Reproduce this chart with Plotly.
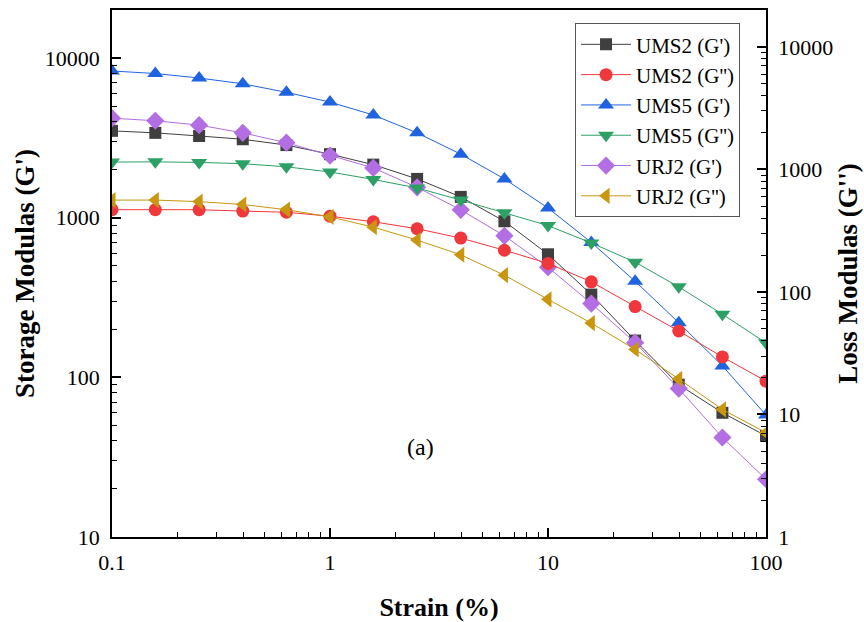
import math
import plotly.graph_objects as go

strain = [0.1, 0.158, 0.251, 0.398, 0.631, 1.0, 1.58, 2.51, 3.98, 6.31, 10.0, 15.8, 25.1, 39.8, 63.1, 100.0]
ums2_gp = [3500, 3400, 3250, 3100, 2850, 2500, 2150, 1750, 1350, 950, 590, 330, 170, 90, 60, 43]
ums2_gpp = [469, 469, 469, 457, 447, 415, 374, 328, 275, 219, 171, 121, 76, 48, 29.5, 18.7]
ums5_gp = [8300, 8000, 7500, 6900, 6100, 5300, 4400, 3400, 2500, 1750, 1150, 700, 400, 220, 118, 58]
ums5_gpp = [1148, 1153, 1140, 1114, 1050, 953, 828, 706, 562, 442, 348, 251, 175, 110, 65.8, 38.4]
urj2_gp = [4200, 4050, 3800, 3400, 2950, 2450, 2050, 1550, 1120, 770, 490, 290, 165, 85, 42, 23]
urj2_gpp = [562, 562, 546, 517, 469, 410, 338, 265, 201, 137, 87, 55.7, 33.9, 19.5, 11.0, 7.1]

x_ticks = [0.1, 1, 10, 100]
x_tick_text = ["0.1", "1", "10", "100"]
left_ticks = [10, 100, 1000, 10000]
left_tick_text = ["10", "100", "1000", "10000"]
right_ticks = [1, 10, 100, 1000, 10000]
right_tick_text = ["1", "10", "100", "1000", "10000"]

FONT = "Liberation Serif, Times New Roman, serif"

series = [
    ("UMS2 (G')", ums2_gp, "y", "#3f3f3f", "square", 12),
    ("UMS2 (G'')", ums2_gpp, "y2", "#f0373c", "circle", 13),
    ("UMS5 (G')", ums5_gp, "y", "#1f63e0", "triangle-up", 14),
    ("UMS5 (G'')", ums5_gpp, "y2", "#2da065", "triangle-down", 14),
    ("URJ2 (G')", urj2_gp, "y", "#b26ee2", "diamond", 14),
    ("URJ2 (G'')", urj2_gpp, "y2", "#c8960f", "triangle-left", 14),
]

fig = go.Figure()
for name, vals, ax, col, sym, sz in series:
    fig.add_trace(go.Scatter(
        x=strain, y=vals, yaxis=ax, name=name, mode="lines+markers",
        line=dict(color=col, width=1),
        marker=dict(symbol=sym, size=sz, color=col, line=dict(width=0)),
    ))

def minor_vals(lo, hi):
    out = []
    for d in range(lo, hi + 1):
        for m in range(2, 10):
            out.append(m * 10 ** d)
    return out

fig.update_layout(
    width=864, height=622,
    margin=dict(l=112, r=98, t=10, b=85),
    paper_bgcolor="white", plot_bgcolor="white",
    font=dict(family=FONT, size=22, color="black"),
    showlegend=True,
    legend=dict(
        x=0.708, y=0.975, xanchor="left", yanchor="top",
        bgcolor="white", bordercolor="#555555", borderwidth=1,
        font=dict(family=FONT, size=21, color="black"),
        itemwidth=50, tracegroupgap=0,
    ),
    xaxis=dict(
        type="log", range=[-1, 2],
        tickvals=x_ticks, ticktext=x_tick_text,
        ticks="inside", ticklen=9, tickwidth=1.5, tickcolor="black",
        minor=dict(ticks="inside", ticklen=5, tickwidth=1.2, tickcolor="black",
                   tickmode="array", tickvals=minor_vals(-1, 1)),
        showline=True, linecolor="black", linewidth=1.5, mirror=True,
        showgrid=False, zeroline=False,
        tickfont=dict(family=FONT, size=22),
        ticklabelstandoff=5,
        title=dict(text="<b>Strain (%)</b>", font=dict(family=FONT, size=26), standoff=27),
        automargin=False,
    ),
    yaxis=dict(
        type="log", range=[1, math.log10(20000)],
        tickvals=left_ticks, ticktext=left_tick_text,
        ticks="inside", ticklen=9, tickwidth=1.5, tickcolor="black",
        minor=dict(ticks="inside", ticklen=5, tickwidth=1.2, tickcolor="black",
                   tickmode="array", tickvals=minor_vals(1, 3)),
        showline=True, linecolor="black", linewidth=1.5,
        showgrid=False, zeroline=False,
        tickfont=dict(family=FONT, size=22),
        ticklabelstandoff=6,
        title=dict(text="<b>Storage Modulas (G')</b>", font=dict(family=FONT, size=27), standoff=2),
        automargin=False,
    ),
    yaxis2=dict(
        type="log", range=[0, math.log10(20000)],
        overlaying="y", side="right",
        tickvals=right_ticks, ticktext=right_tick_text,
        ticks="inside", ticklen=9, tickwidth=1.5, tickcolor="black",
        minor=dict(ticks="inside", ticklen=5, tickwidth=1.2, tickcolor="black",
                   tickmode="array", tickvals=minor_vals(0, 3)),
        showline=True, linecolor="black", linewidth=1.5,
        showgrid=False, zeroline=False,
        tickfont=dict(family=FONT, size=22),
        ticklabelstandoff=6,
        title=dict(text="<b>Loss Modulas (G'')</b>", font=dict(family=FONT, size=27), standoff=6),
        automargin=False,
    ),
    annotations=[dict(
        text="(a)", xref="paper", yref="paper", x=0.471, y=0.142,
        showarrow=False, font=dict(family=FONT, size=24, color="black"),
    )],
)

fig.write_html("out.html")
